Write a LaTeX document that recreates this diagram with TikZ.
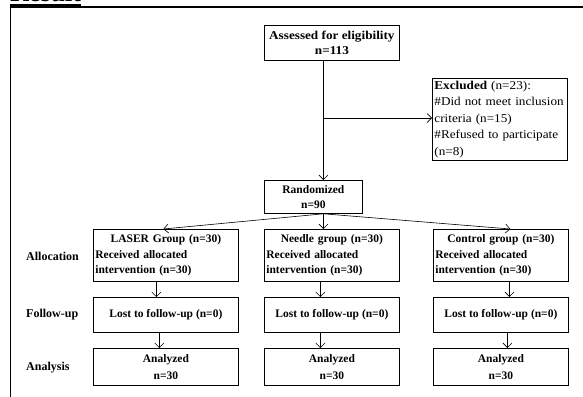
\documentclass[tikz,border=0pt]{standalone}
\usepackage{fontspec}
\setmainfont{Liberation Serif}
\newfontfamily\widefont[FakeStretch=1.1]{Liberation Serif}
\usetikzlibrary{arrows,arrows.meta,calc}
\tikzset{
	flowbox/.style={
			draw, line width=0.8pt, inner sep=2pt, anchor=north west, align=center,
			font=\fontsize{11.5}{15.5}\selectfont\bfseries
		},
	grpbox/.style={
			flowbox, minimum height=52pt, align=left
		},
	stagelbl/.style={
			anchor=west, inner sep=0pt, font=\fontsize{12}{14}\selectfont\bfseries
		},
	flowarrow/.style={-{Straight Barb[length=4.5pt, width=9pt, line width=0.6pt]}, line width=0.6pt}
}

\begin{document}
\begin{tikzpicture}[x=1pt, y=-1pt]

			\useasboundingbox (0,0) rectangle (583,396);

			% Title and frame
			\node[anchor=base west, inner sep=0pt, font=\fontsize{26}{26}\selectfont\bfseries] (title) at (10,1.5) {Result};
			\draw[line width=2.5pt] ([yshift=-3.5pt]title.base west) -- ([yshift=-3.5pt]title.base east);
			\draw[line width=1.4pt] (10,7) -- (595,7);
			\draw[line width=1pt] (10,7) -- (10,400);

			% Enrolment
			\node[flowbox, minimum width=135pt, minimum height=35pt, font=\widefont\fontsize{12}{15}\selectfont\bfseries] (assess) at (264,25) {Assessed for eligibility\\n=113};
			\node[flowbox, text width=131pt, minimum height=82pt, align=left, font=\widefont\fontsize{12}{16.5}\selectfont] (excl) at (432,78)
			{\textbf{Excluded} (n=23):\\\#Did not meet inclusion\\criteria (n=15)\\\#Refused to participate\\(n=8)};
			\node[flowbox, minimum width=98pt, minimum height=33pt] (rand) at (264,180) {Randomized\\n=90};

			% Allocation
			\node[grpbox, text width=141pt] (laser) at (93,229)
			{\makebox[\linewidth][c]{LASER Group (n=30)}\\Received allocated\\intervention (n=30)};
			\node[grpbox, text width=131pt] (needle) at (264,229)
			{\makebox[\linewidth][c]{Needle group (n=30)}\\Received allocated\\intervention (n=30)};
			\node[grpbox, text width=131pt] (ctrl) at (433,229)
			{\makebox[\linewidth][c]{Control group (n=30)}\\Received allocated\\intervention (n=30)};

			% Follow-up
			\node[flowbox, minimum width=145pt, minimum height=35pt] (lfu) at (93,297) {Lost to follow-up (n=0)};
			\node[flowbox, minimum width=135pt, minimum height=35pt] (nfu) at (264,297) {Lost to follow-up (n=0)};
			\node[flowbox, minimum width=135pt, minimum height=35pt] (cfu) at (433,297) {Lost to follow-up (n=0)};

			% Analysis
			\node[flowbox, minimum width=145pt, minimum height=37pt, font=\fontsize{11.5}{17}\selectfont\bfseries] (lan) at (93,348) {Analyzed\\n=30};
			\node[flowbox, minimum width=135pt, minimum height=37pt, font=\fontsize{11.5}{17}\selectfont\bfseries] (nan) at (264,348) {Analyzed\\n=30};
			\node[flowbox, minimum width=135pt, minimum height=37pt, font=\fontsize{11.5}{17}\selectfont\bfseries] (can) at (433,348) {Analyzed\\n=30};

			% Stage labels
			\node[stagelbl] (alloc) at (26,256) {Allocation};
			\node[stagelbl] (fup) at (26,315) {Follow-up};
			\node[stagelbl] (anl) at (26,368) {Analysis};

			% Arrows
			\coordinate (branch) at (323,118);
			\draw[flowarrow] ([xshift=-8.5pt]assess.south) -- ([xshift=10pt]rand.north);
			\draw[flowarrow] (branch) -- (branch -| excl.west);
			\draw[flowarrow] ([xshift=10pt]rand.south) -- ([xshift=-2.5pt]laser.north);
			\draw[flowarrow] ([xshift=10pt]rand.south) -- ([xshift=-8.5pt]needle.north);
			\draw[flowarrow] ([xshift=10pt]rand.south) -- ([xshift=9.5pt]ctrl.north);
			\foreach \a/\b/\s in {laser/lfu/-9.5, lfu/lan/-6.5, needle/nfu/-11.5, nfu/nan/-11.5, ctrl/cfu/8.5, cfu/can/6.5}
				\draw[flowarrow] ([xshift=\s pt]\a.south) -- ([xshift=\s pt]\b.north);

		\end{tikzpicture}
\end{document}
